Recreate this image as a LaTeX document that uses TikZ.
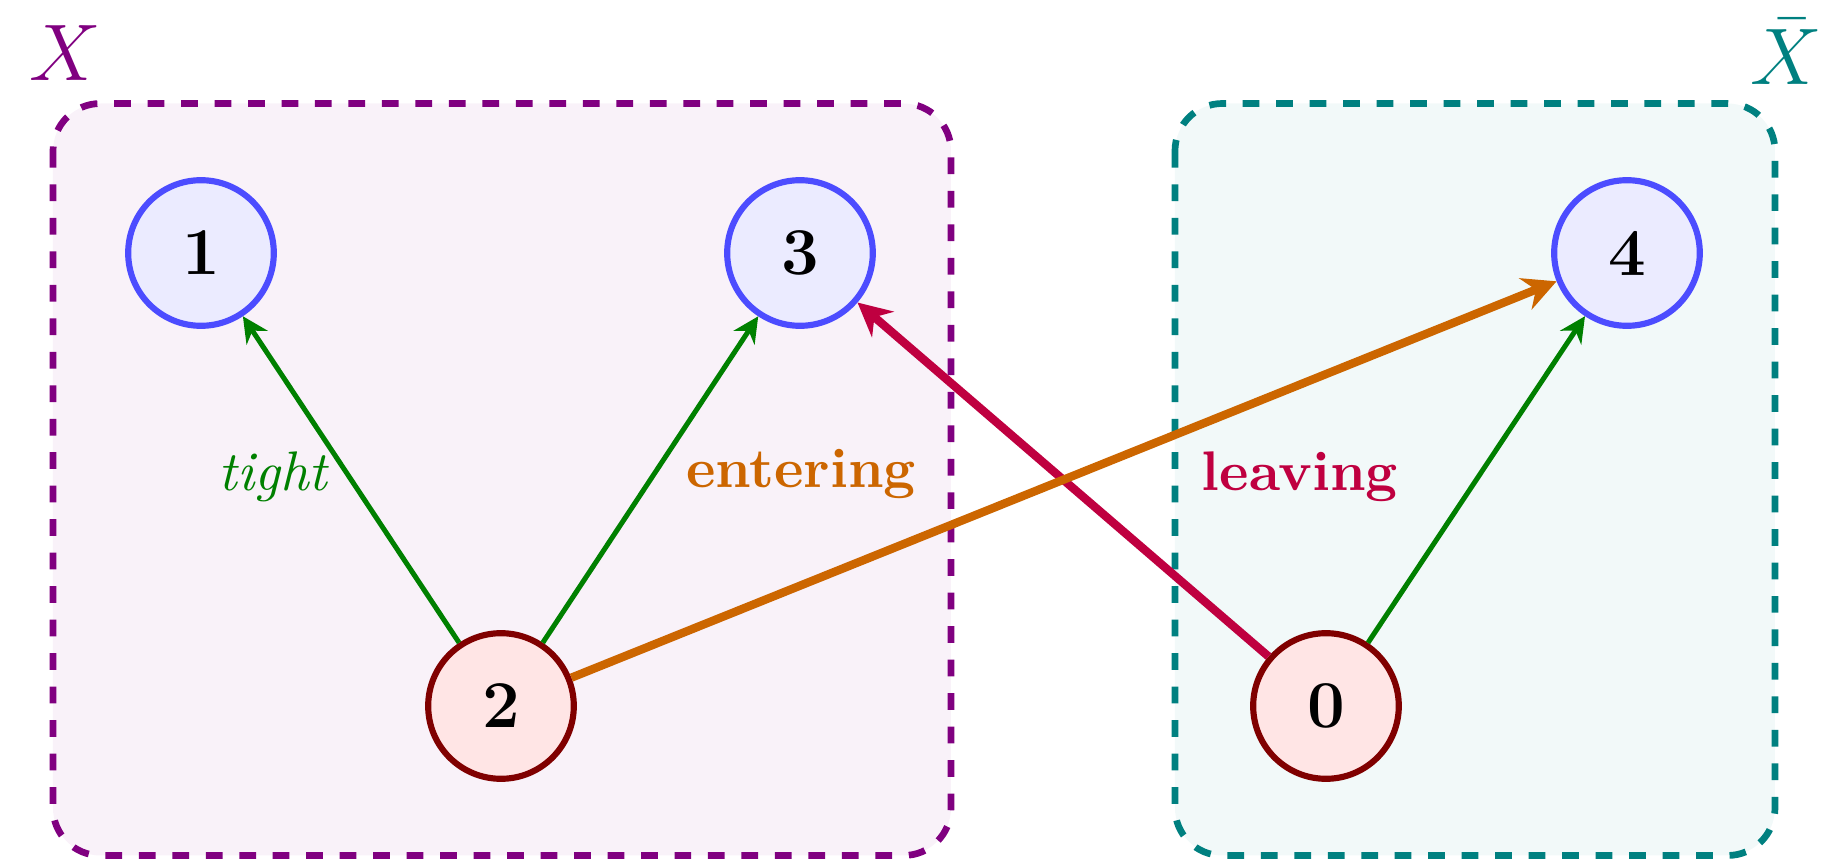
\documentclass[tikz,border=0pt]{standalone}
\usetikzlibrary{arrows.meta}
\begin{document}
\begin{tikzpicture}[x=0.17921pt,y=-0.17921pt,
  vnode/.style={circle,minimum size=26.1pt,inner sep=0pt,line width=1.1pt,font=\large\bfseries},
  bluenode/.style={vnode,draw=blue!70,fill=blue!8},
  rednode/.style={vnode,draw=red!50!black,fill=red!10},
  region/.style={dashed,line width=1.2pt,rounded corners=8.5pt},
  tightarrow/.style={draw=green!50!black,line width=0.9pt,-{Stealth[length=4.6pt,width=4.5pt,inset=1.5pt]}},
  bigarrow/.style={line width=1.5pt,-{Stealth[length=6pt,width=6pt,inset=2pt]}},
]
\useasboundingbox (0,0) rectangle (1845,859);
% regions
\draw[region,draw=violet,fill=violet!5] (53,103.5) rectangle (951,855.5);
\draw[region,draw=teal,fill=teal!5] (1175,103.5) rectangle (1775,855.5);
\node[font=\Large,text=violet] (lx) at (65,53) {$X$};
\node[font=\Large,text=teal] (lxb) at (1786,52) {$\bar{X}$};
% nodes
\node[bluenode] (n1) at (201,253) {1};
\node[bluenode] (n3) at (800,253) {3};
\node[bluenode] (n4) at (1627,253) {4};
\node[rednode] (n2) at (501,706) {2};
\node[rednode] (n0) at (1326,706) {0};
% edges
\draw[tightarrow] (n2) -- (n1);
\draw[tightarrow] (n2) -- (n3);
\draw[tightarrow] (n0) -- (n4);
\draw[bigarrow,draw=purple] (n0) -- (n3);
\draw[bigarrow,draw=orange!80!black] (n2) -- (n4);
% labels
\node[text=green!50!black,font=\itshape] (ltight) at (273,477) {tight};
\node[text=orange!80!black,font=\bfseries] (lent) at (801,474) {entering};
\node[text=purple,font=\bfseries] (lleave) at (1300,477) {leaving};
\end{tikzpicture}
\end{document}
